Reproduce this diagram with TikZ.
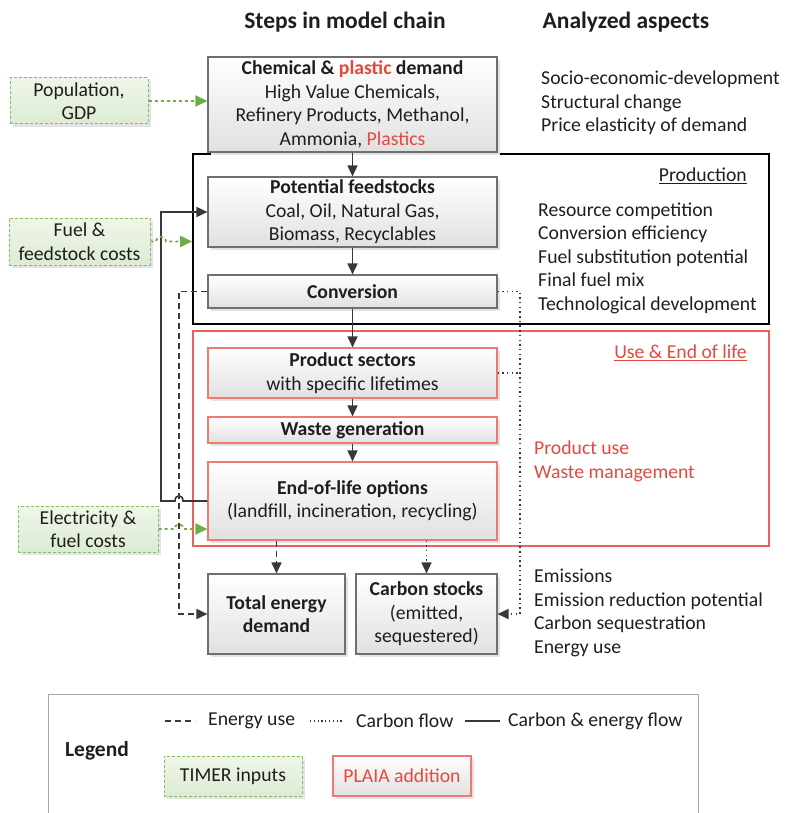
\documentclass[tikz,border=0pt]{standalone}
\usepackage{fontspec}
\setmainfont{Carlito}
\usetikzlibrary{arrows.meta,shadows,calc}

\definecolor{txt}{HTML}{1E1E1E}
\definecolor{plred}{HTML}{E8473C}
\definecolor{boxgray}{HTML}{6F6F6F}
\definecolor{boxred}{HTML}{EE7A72}
\definecolor{framered}{HTML}{E8615A}
\definecolor{tgreen}{HTML}{6FAD47}
\definecolor{tgreenline}{HTML}{86BD63}
\definecolor{tgreentop}{HTML}{EEF6E9}
\definecolor{tgreenbot}{HTML}{DDEBD3}
\definecolor{flow}{HTML}{383838}
\definecolor{legframe}{HTML}{A6A6A6}

\newcommand\bodysize{\fontsize{19.7}{23.5}\selectfont}
\newcommand\headsize{\fontsize{23.5}{26}\selectfont\bfseries}

\tikzset{
  shadowed/.style={drop shadow={shadow xshift=3pt,shadow yshift=-3pt,fill=black!11,opacity=1}},
  chainbox/.style={shadowed,draw=boxgray,line width=1.1pt,top color=white,bottom color=black!12,
    inner sep=0pt,align=center,font=\bodysize,text=txt,minimum width=289pt},
  plaiabox/.style={chainbox,draw=boxred},
  stockbox/.style={chainbox,minimum width=138pt,minimum height=80pt},
  timerbox/.style={shadowed,draw=tgreenline,dashed,dash pattern=on 3pt off 2pt,line width=1pt,
    top color=tgreentop,bottom color=tgreenbot,inner sep=0pt,align=center,font=\bodysize,text=txt},
  aspects/.style={anchor=west,align=left,inner sep=0pt,font=\bodysize,text=txt},
  tip/.style={-{Triangle[length=11pt,width=10pt]}},
  cef/.style={draw=flow,line width=1.6pt},
  euse/.style={draw=flow,line width=1.6pt,dash pattern=on 6pt off 4pt},
  cflow/.style={draw=flow,line width=1.5pt,dash pattern=on 1.5pt off 3.2pt},
  input/.style={draw=tgreen,line width=1.9pt,dash pattern=on 3pt off 3pt,
    -{Triangle[length=12pt,width=11pt]}},
}

\begin{document}
\begin{tikzpicture}[x=1pt,y=-1pt]
\useasboundingbox (0,0) rectangle (784,813);

% column headings
\node[font=\headsize,text=txt] (hsteps) at (345,22) {Steps in model chain};
\node[font=\headsize,text=txt] (haspects) at (626,22) {Analyzed aspects};

% stage frames
\node[draw=black,line width=1.7pt,minimum width=576pt,minimum height=170pt,inner sep=0pt] (prodframe) at (481,239) {};
\node[draw=framered,line width=1.4pt,minimum width=576pt,minimum height=215pt,inner sep=0pt] (useframe) at (481,438.5) {};
\node[anchor=east,inner sep=0pt,font=\bodysize,text=txt] (prodlabel) at (747,176) {\underline{Production}};
\node[anchor=east,inner sep=0pt,font=\bodysize,text=plred] (uselabel) at (747,353) {\underline{Use \& End of life}};

% model chain
\node[chainbox,minimum height=95pt] (demand) at (352.5,104.5)
  {\textbf{Chemical \& \textcolor{plred}{plastic} demand}\\High Value Chemicals,\\Refinery Products, Methanol,\\Ammonia, \textcolor{plred}{Plastics}};
\node[chainbox,minimum height=70pt] (feed) at (352.5,212)
  {\textbf{Potential feedstocks}\\Coal, Oil, Natural Gas,\\Biomass, Recyclables};
\node[chainbox,minimum height=33pt] (conv) at (352.5,291.5) {\textbf{Conversion}};
\node[plaiabox,minimum height=50pt] (prod) at (352.5,373)
  {\textbf{Product sectors}\\with specific lifetimes};
\node[plaiabox,minimum height=26pt] (waste) at (352.5,430) {\textbf{Waste generation}};
\node[plaiabox,minimum height=78pt] (eol) at (352.5,501)
  {\textbf{End-of-life options}\\(landfill, incineration, recycling)};
\node[stockbox,minimum width=137pt] (total) at (276.5,614) {\textbf{Total energy}\\\textbf{demand}};
\node[stockbox,minimum width=141pt] (carbon) at (426.5,614) {\textbf{Carbon stocks}\\(emitted,\\sequestered)};

% external inputs
\node[timerbox,minimum width=138pt,minimum height=46pt] (pop) at (79,101) {Population,\\GDP};
\node[timerbox,minimum width=141pt,minimum height=47pt] (fuel) at (79.5,241.5) {Fuel \&\\feedstock costs};
\node[timerbox,minimum width=140pt,minimum height=46pt] (elec) at (88,529) {Electricity \&\\fuel costs};

% analyzed aspects
\node[aspects] (asp1) at (541,103) {Socio-economic-development\\Structural change\\Price elasticity of demand};
\node[aspects] (asp2) at (538,258) {Resource competition\\Conversion efficiency\\Fuel substitution potential\\Final fuel mix\\Technological development};
\node[aspects,text=plred] (asp3) at (534,461.5) {Product use\\Waste management};
\node[aspects] (asp4) at (534,613) {Emissions\\Emission reduction potential\\Carbon sequestration\\Energy use};

% main chain flow
\draw[cef,tip] (demand) -- (feed);
\draw[cef,tip] (feed) -- (conv);
\draw[cef,tip] (conv) -- (prod);
\draw[cef,tip] (prod) -- (waste);
\draw[cef,tip] (waste) -- (eol);

% recycling loop back to the feedstocks, hopping over the energy line
\draw[cef,tip] (eol.west) -- (183,501) .. controls (183,494) and (175,494) .. (175,501)
  -- (161,501) |- (feed.west);

% energy use
\draw[euse,tip] (conv.west) -- (179,291.5) |- (total.west);
\draw[euse,tip] (eol.south -| total.north) -- (total.north);

% carbon flows
\draw[cflow,tip] (conv.east) -- (520,291.5) |- (carbon.east);
\draw[cflow] (prod.east) -- (520,373);
\draw[cflow,tip] (eol.south -| carbon.north) -- (carbon.north);

% TIMER inputs
\draw[input] (pop.east) -- (demand.west |- pop.east);
\draw[input] (fuel.east) -- (156,241.5) .. controls (157,235) and (165,235) .. (166,241.5)
  -- (prodframe.west |- fuel.east);
\draw[input] (elec.east) -- (174,529) .. controls (175,523) and (183,523) .. (184,529)
  -- (eol.west |- elec.east);

% legend
\node[draw=legframe,line width=1pt,minimum width=650pt,minimum height=140pt,inner sep=0pt,anchor=north west] (legend) at (48,694) {};
\node[font=\fontsize{21.5}{24}\selectfont\bfseries,text=txt] (legtitle) at (97,751) {Legend};
\coordinate (ls1) at (165,721); \coordinate (le1) at (195,721);
\coordinate (ls2) at (310,721); \coordinate (le2) at (343,721);
\coordinate (ls3) at (465,721); \coordinate (le3) at (500,721);
\draw[euse] (ls1) -- (le1);
\node[aspects] (legeuse) at (208,721) {Energy use};
\draw[cflow,line width=1.2pt,dash pattern=on 1.2pt off 2.6pt] (ls2) -- (le2);
\node[aspects] (legcflow) at (356,721) {Carbon flow};
\draw[cef] (ls3) -- (le3);
\node[aspects] (legcef) at (508,721) {Carbon \& energy flow};
\node[timerbox,minimum width=138pt,minimum height=40pt] (legtimer) at (233,776) {TIMER inputs};
\node[plaiabox,minimum width=138pt,minimum height=40pt,text=plred] (legplaia) at (402,776) {PLAIA addition};
\end{tikzpicture}
\end{document}
